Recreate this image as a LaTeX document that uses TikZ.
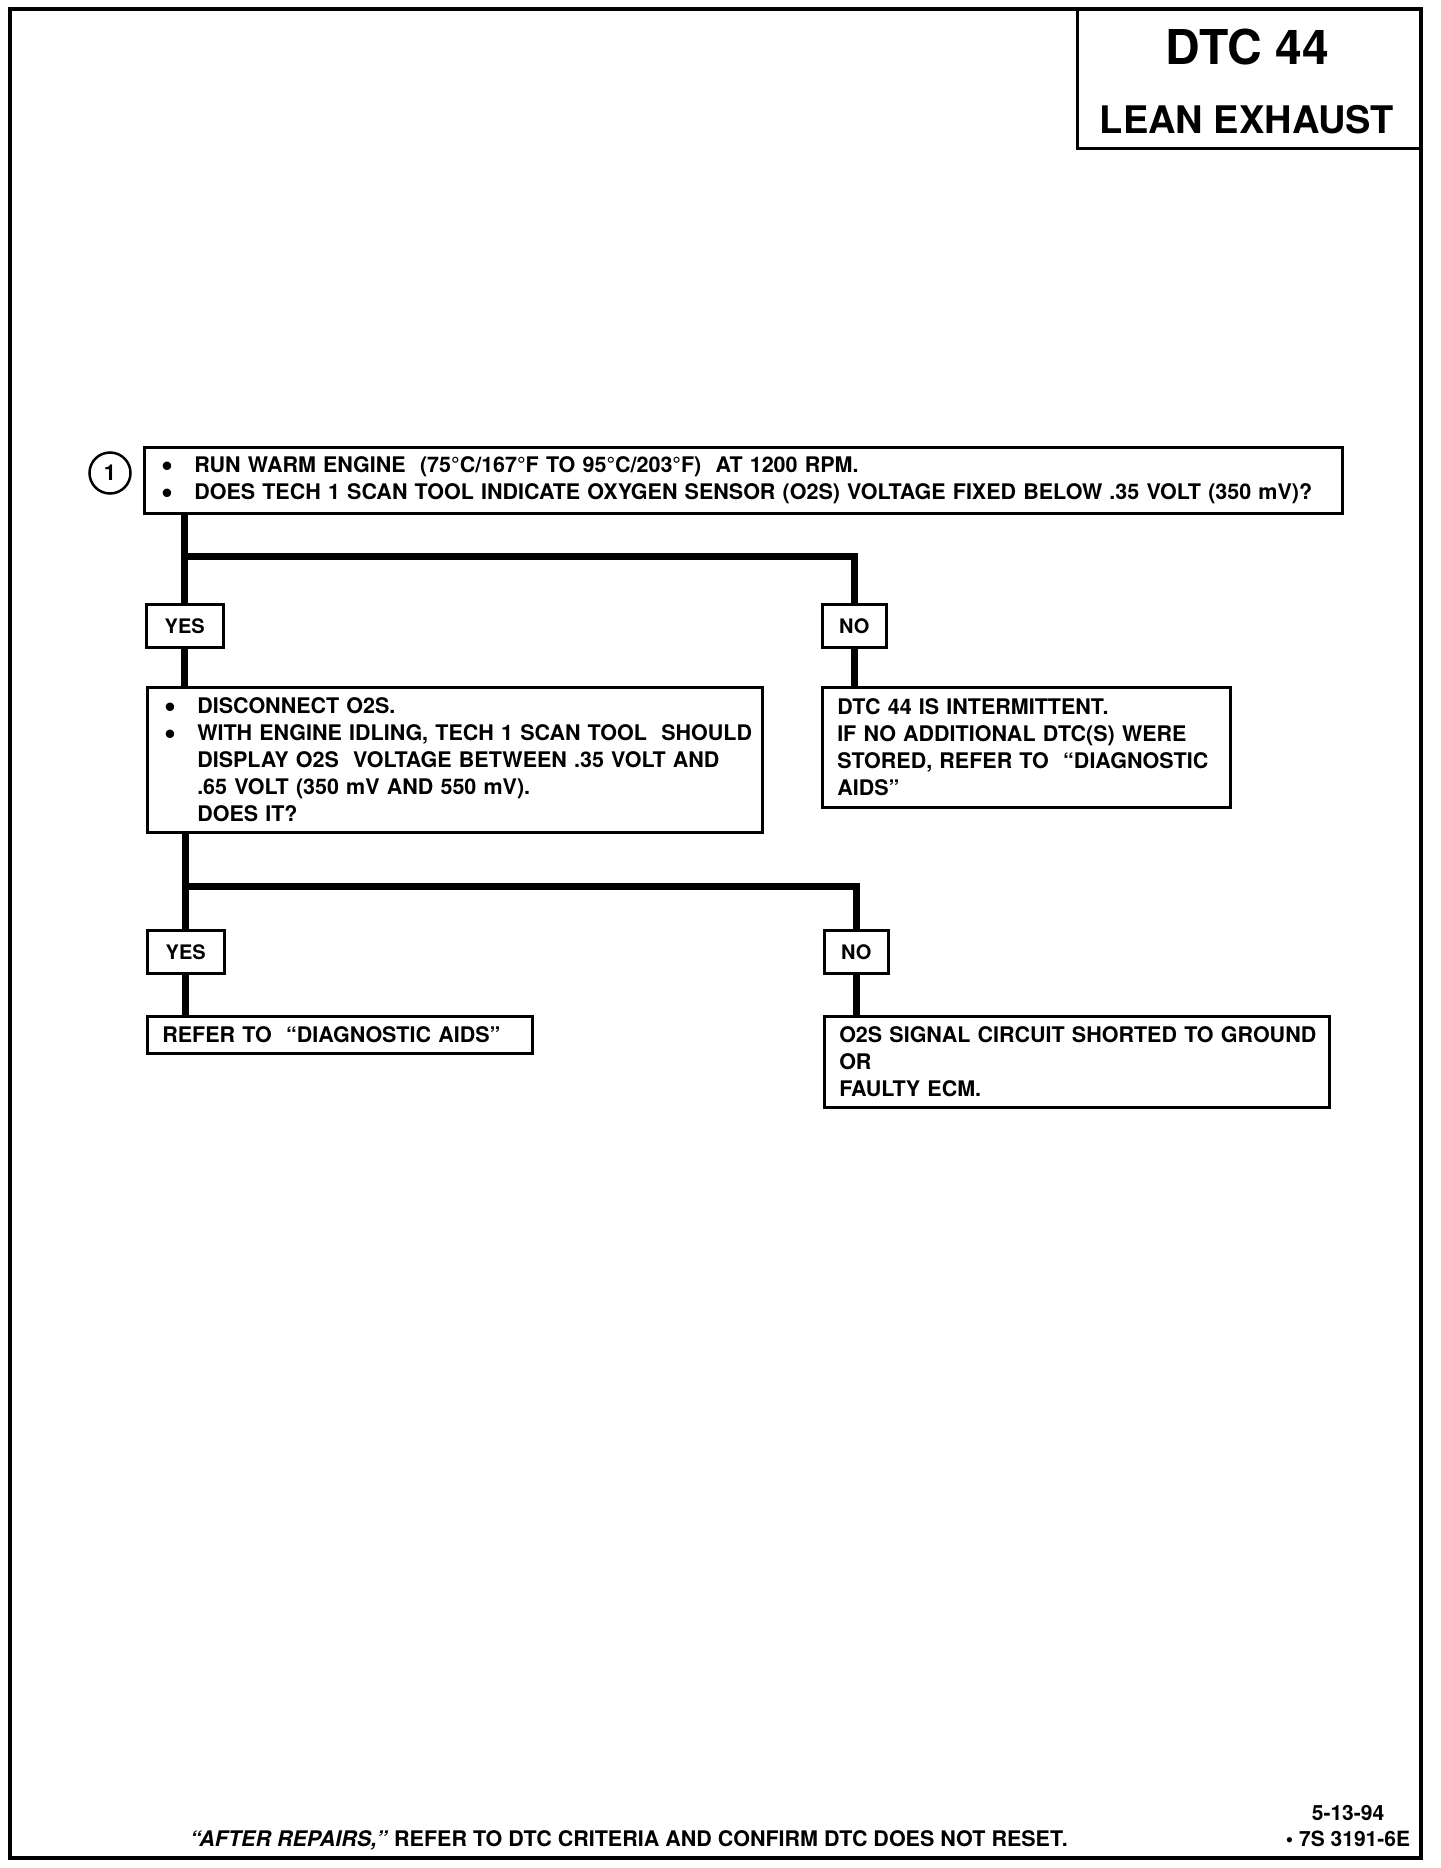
\documentclass[tikz,border=0pt]{standalone}
\usepackage{fontspec}
\setmainfont{TeX Gyre Heros}
\usetikzlibrary{positioning}

\newcommand{\itembul}{\makebox[33pt][l]{\smash{\raisebox{-3.5pt}{\fontsize{34}{27}\selectfont\textbullet}}}}
\newcommand{\itemgap}{\hspace*{33pt}}

\begin{document}
\begin{tikzpicture}[x=1pt,y=-1pt,
    textbox/.style={draw,line width=2.5pt,anchor=north west,align=left,
      inner xsep=15pt,inner ysep=0pt,font=\fontsize{21.5}{27}\selectfont\bfseries},
    answer/.style={draw,line width=2.5pt,anchor=north west,inner sep=0pt,
      minimum width=77pt,minimum height=43pt,font=\fontsize{20}{24}\selectfont\bfseries},
    branch/.style={line width=7pt}]
        \useasboundingbox (0,0) rectangle (1440,1868);

        %------------------
        % 枠と表題
        %------------------

        \draw[line width=4pt] (10,9) rectangle (1421,1858);
        \draw[line width=3pt] (1077,9) rectangle (1421,148);
        \node[font=\fontsize{48}{48}\selectfont\bfseries] (dtc) at (1247,47) {DTC 44};
        \node[font=\fontsize{38}{38}\selectfont\bfseries] (lean) at (1247,120) {LEAN EXHAUST};

        %------------------
        % 手順の箱
        %------------------

        \node[draw,circle,line width=2.5pt,minimum size=41pt,inner sep=0pt,
          font=\fontsize{22}{22}\selectfont\bfseries] (num) at (110,473) {1};

        \node[textbox,inner xsep=17pt,text width=1164pt,minimum height=66pt] (boxA) at (143,446)
          {\mbox{\itembul RUN WARM ENGINE\ \ (75°C/167°F TO 95°C/203°F)\ \ AT 1200 RPM.}\\
           \mbox{\itembul DOES TECH 1 SCAN TOOL INDICATE OXYGEN SENSOR (O2S) VOLTAGE FIXED BELOW .35 VOLT (350 mV)?}};

        \node[answer] (yesA) at (145,603) {YES};
        \node[answer,minimum width=64pt] (noA) at (821,603) {NO};

        \node[textbox,inner xsep=17pt,text width=581pt,minimum height=145pt] (boxB) at (146,686)
          {\mbox{\itembul DISCONNECT O2S.}\\
           \mbox{\itembul WITH ENGINE IDLING, TECH 1 SCAN TOOL\ \ SHOULD}\\
           \mbox{\itemgap DISPLAY O2S\ \ VOLTAGE BETWEEN .35 VOLT AND}\\
           \mbox{\itemgap .65 VOLT (350 mV AND 550 mV).}\\
           \mbox{\itemgap DOES IT?}};

        \node[textbox,text width=378pt,minimum height=120pt] (boxC) at (821,686)
          {\mbox{DTC 44 IS INTERMITTENT.}\\
           \mbox{IF NO ADDITIONAL DTC(S) WERE}\\
           \mbox{STORED, REFER TO\ \ ``DIAGNOSTIC}\\
           \mbox{AIDS''}};

        \node[answer] (yesB) at (146,929) {YES};
        \node[answer,minimum width=64pt] (noB) at (823,929) {NO};

        \node[textbox,text width=355pt,minimum height=37pt] (boxD) at (146,1015)
          {\mbox{REFER TO\ \ ``DIAGNOSTIC AIDS''}};

        \node[textbox,text width=475pt,minimum height=91pt] (boxE) at (823,1015)
          {\mbox{O2S SIGNAL CIRCUIT SHORTED TO GROUND}\\
           \mbox{OR}\\
           \mbox{FAULTY ECM.}};

        %------------------
        % 分岐
        %------------------

        \coordinate (forkA) at (0,556);
        \coordinate (forkB) at (0,886);

        \draw[branch] (yesA.north |- boxA.south) -- (yesA.north);
        \draw[branch] (yesA.north |- forkA) -| (noA.north);
        \draw[branch] (yesA.south) -- (yesA.south |- boxB.north);
        \draw[branch] (noA.south) -- (noA.south |- boxC.north);

        \draw[branch] (yesB.north |- boxB.south) -- (yesB.north);
        \draw[branch] (yesB.north |- forkB) -| (noB.north);
        \draw[branch] (yesB.south) -- (yesB.south |- boxD.north);
        \draw[branch] (noB.south) -- (noB.south |- boxE.north);

        %------------------
        % 脚注
        %------------------

        \node[font=\fontsize{21.5}{24}\selectfont\bfseries,anchor=base] (repairs) at (629,1846)
          {\textit{``AFTER REPAIRS,''} REFER TO DTC CRITERIA AND CONFIRM DTC DOES NOT RESET.};
        \node[font=\fontsize{21}{26}\selectfont\bfseries,align=center] (code) at (1348,1826)
          {5-13-94\\\textbullet\ 7S 3191-6E};
      \end{tikzpicture}
\end{document}
